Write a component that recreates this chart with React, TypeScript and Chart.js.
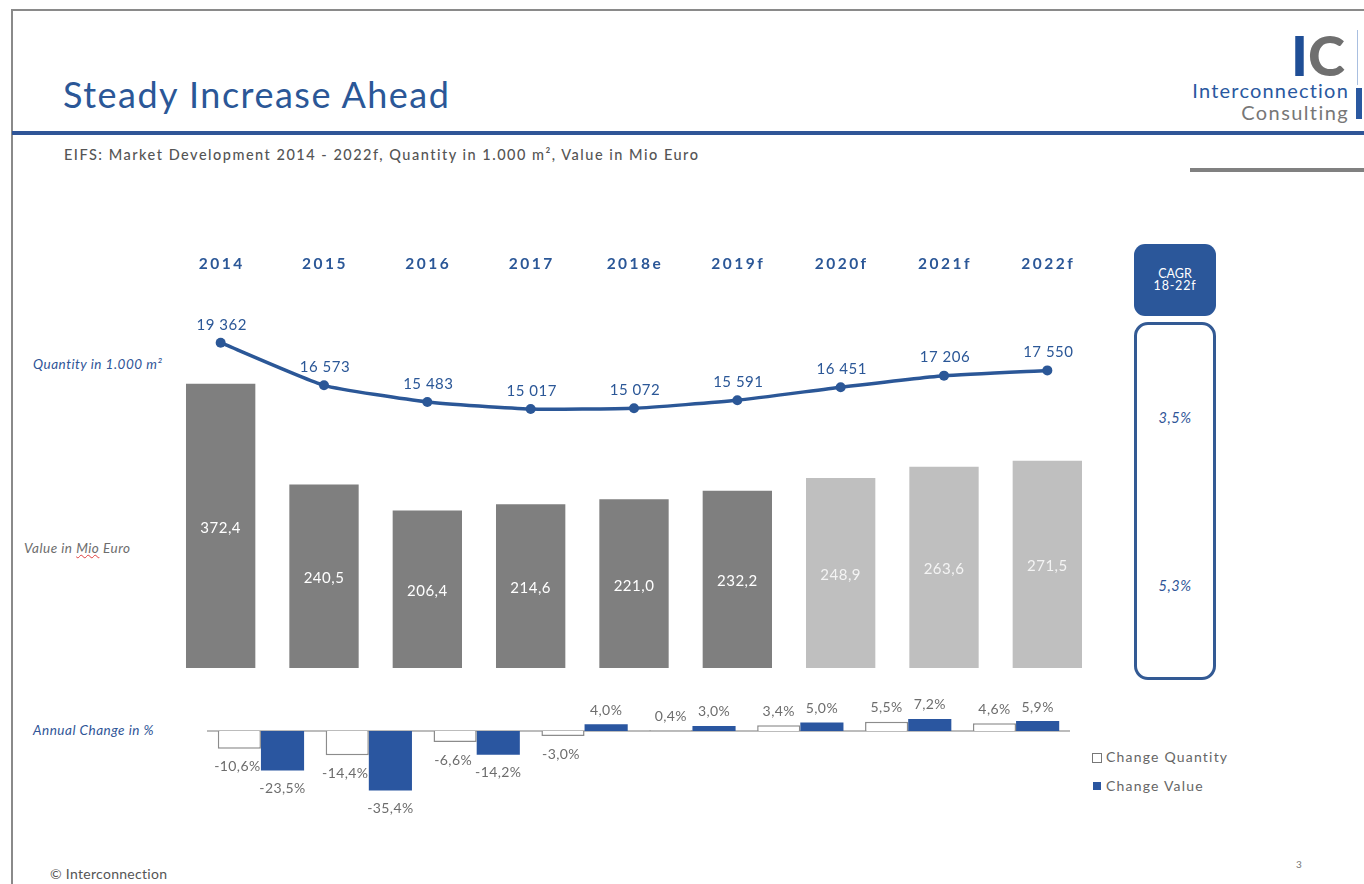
import React, { useEffect, useRef } from "react";
import { Chart, registerables } from "chart.js";
Chart.register(...registerables);

const years = ["2014", "2015", "2016", "2017", "2018e", "2019f", "2020f", "2021f", "2022f"];
const valueMio = [372.4, 240.5, 206.4, 214.6, 221.0, 232.2, 248.9, 263.6, 271.5];
const quantity = [19362, 16573, 15483, 15017, 15072, 15591, 16451, 17206, 17550];
const forecastStart = 6; // index from which bars are forecast (light)

const changeYears = ["2015", "2016", "2017", "2018e", "2019f", "2020f", "2021f", "2022f"];
const changeQuantity = [-10.6, -14.4, -6.6, -3.0, 0.4, 3.4, 5.5, 4.6];
const changeValue = [-23.5, -35.4, -14.2, 4.0, 3.0, 5.0, 7.2, 5.9];

const cagrQuantity = "3,5%";
const cagrValue = "5,3%";

const BLUE = "#2b5797";
const DARK = "#7f7f7f";
const LIGHT = "#bfbfbf";
const FONT = "Lato, 'Open Sans', sans-serif";

const fmtDec = (v: number) => v.toFixed(1).replace(".", ",");
const fmtThou = (v: number) => {
  const s = Math.round(v).toString();
  return s.length > 3 ? s.slice(0, s.length - 3) + " " + s.slice(s.length - 3) : s;
};

function MainChart() {
  const ref = useRef<HTMLCanvasElement>(null);
  useEffect(() => {
    if (!ref.current) return;
    const labelPlugin = {
      id: "labels",
      afterDatasetsDraw(chart: any) {
        const ctx = chart.ctx;
        const x = chart.scales.x;
        ctx.save();
        ctx.textAlign = "center";
        ctx.textBaseline = "middle";
        // year labels
        ctx.fillStyle = BLUE;
        ctx.font = `bold 15.5px ${FONT}`;
        (ctx as any).letterSpacing = "2.5px";
        years.forEach((y, i) => ctx.fillText(y, x.getPixelForValue(i) + 1, 24));
        // bar labels
        const barMeta = chart.getDatasetMeta(1);
        ctx.font = `15px ${FONT}`;
        (ctx as any).letterSpacing = "0.5px";
        barMeta.data.forEach((el: any, i: number) => {
          ctx.fillStyle = i >= forecastStart ? "#f4f4f4" : "#ffffff";
          ctx.fillText(fmtDec(valueMio[i]), el.x, (el.y + el.base) / 2 + 2);
        });
        // line labels
        const lineMeta = chart.getDatasetMeta(0);
        ctx.fillStyle = BLUE;
        lineMeta.data.forEach((el: any, i: number) => {
          ctx.fillText(fmtThou(quantity[i]), el.x + 1, el.y - 18);
        });
        ctx.restore();
      },
    };
    const chart = new Chart(ref.current, {
      type: "bar",
      data: {
        labels: years,
        datasets: [
          {
            type: "line",
            data: quantity,
            yAxisID: "yq",
            borderColor: BLUE,
            backgroundColor: BLUE,
            borderWidth: 3.5,
            pointRadius: 5,
            pointBackgroundColor: BLUE,
            pointBorderWidth: 0,
            tension: 0.15,
            order: 0,
          } as any,
          {
            type: "bar",
            data: valueMio,
            yAxisID: "y",
            backgroundColor: valueMio.map((_, i) => (i >= forecastStart ? LIGHT : DARK)),
            categoryPercentage: 1,
            barPercentage: 0.671,
            order: 1,
          },
        ],
      },
      options: {
        responsive: false,
        animation: false,
        maintainAspectRatio: false,
        layout: { autoPadding: false, padding: { top: 40, bottom: 12, left: 0, right: 0 } } as any,
        plugins: { legend: { display: false }, tooltip: { enabled: false } },
        scales: {
          x: { display: false },
          y: { display: false, min: 0, max: 508.5 },
          yq: { display: false, min: -1927, max: 23465 },
        },
      },
      plugins: [labelPlugin],
    });
    return () => chart.destroy();
  }, []);
  return (
    <canvas
      ref={ref}
      width={930}
      height={440}
      style={{ position: "absolute", left: 169, top: 240, width: 930, height: 440 }}
    />
  );
}

function ChangeChart() {
  const ref = useRef<HTMLCanvasElement>(null);
  useEffect(() => {
    if (!ref.current) return;
    const plugin = {
      id: "changeLabels",
      beforeDatasetsDraw(chart: any) {
        const ctx = chart.ctx;
        const y0 = chart.scales.y.getPixelForValue(0);
        ctx.save();
        ctx.strokeStyle = "#a6a6a6";
        ctx.lineWidth = 1.5;
        ctx.beginPath();
        ctx.moveTo(chart.chartArea.left, y0);
        ctx.lineTo(chart.chartArea.right, y0);
        ctx.stroke();
        ctx.restore();
      },
      afterDatasetsDraw(chart: any) {
        const ctx = chart.ctx;
        ctx.save();
        ctx.textAlign = "center";
        ctx.textBaseline = "middle";
        ctx.font = `14px ${FONT}`;
        (ctx as any).letterSpacing = "0.4px";
        ctx.fillStyle = "#6d6d6d";
        [changeQuantity, changeValue].forEach((arr, d) => {
          const meta = chart.getDatasetMeta(d);
          meta.data.forEach((el: any, i: number) => {
            const v = arr[i];
            const txt = fmtDec(v) + "%";
            const yy = v < 0 ? el.y + 18 : el.y - 14;
            ctx.fillText(txt, el.x - (v < 0 && d === 0 ? 2 : 0), yy);
          });
        });
        ctx.restore();
      },
    };
    const chart = new Chart(ref.current, {
      type: "bar",
      data: {
        labels: changeYears,
        datasets: [
          {
            data: changeQuantity,
            backgroundColor: "#ffffff",
            borderColor: "#8c8c8c",
            borderWidth: 1.5,
            categoryPercentage: 0.8,
            barPercentage: 1,
          },
          {
            data: changeValue,
            backgroundColor: "#2a56a0",
            borderWidth: 0,
            categoryPercentage: 0.8,
            barPercentage: 1,
          },
        ],
      },
      options: {
        responsive: false,
        animation: false,
        maintainAspectRatio: false,
        layout: { autoPadding: false, padding: 0 } as any,
        plugins: { legend: { display: false }, tooltip: { enabled: false } },
        scales: {
          x: { display: false },
          y: { display: false, min: -55.95, max: 24.4 },
        },
      },
      plugins: [plugin],
    });
    return () => chart.destroy();
  }, []);
  return (
    <canvas
      ref={ref}
      width={863}
      height={135}
      style={{ position: "absolute", left: 207, top: 690, width: 863, height: 135 }}
    />
  );
}

const abs = (s: React.CSSProperties): React.CSSProperties => ({ position: "absolute", ...s });

export default function App() {
  return (
    <div
      style={{
        position: "absolute",
        left: 0,
        top: 0,
        width: 1364,
        height: 884,
        overflow: "hidden",
        background: "#fff",
        fontFamily: FONT,
      }}
    >
      {/* frame */}
      <div style={abs({ left: 12, top: 9, width: 1352, height: 2, background: "#8a8a8a" })} />
      <div style={abs({ left: 11, top: 9, width: 2, height: 875, background: "#8a8a8a" })} />
      {/* title */}
      <div style={abs({ left: 63, top: 72, fontSize: 36, lineHeight: "44px", color: BLUE, whiteSpace: "nowrap", letterSpacing: 1.5 })}>
        Steady Increase Ahead
      </div>
      <div style={abs({ left: 12, top: 131, width: 1352, height: 4, background: "#2f5597" })} />
      <div style={abs({ left: 64, top: 146, fontSize: 14.5, color: "#555", fontWeight: 500, whiteSpace: "nowrap", letterSpacing: 1.5 })}>
        EIFS: Market Development 2014 - 2022f, Quantity in 1.000 m², Value in Mio Euro
      </div>
      <div style={abs({ left: 1190, top: 168, width: 174, height: 4, background: "#808080" })} />
      {/* logo */}
      <div style={abs({ left: 1291, top: 27, fontSize: 56, fontWeight: 900, lineHeight: "56px", letterSpacing: 0, whiteSpace: "nowrap" })}>
        <span style={{ color: "#1f4e96" }}>I</span>
        <span style={{ color: "#6f6f6f" }}>C</span>
      </div>
      <div style={abs({ right: 15, top: 80, fontSize: 20, color: "#2a58a0", lineHeight: "20px", textAlign: "right", whiteSpace: "nowrap", letterSpacing: 1.2 })}>
        Interconnection
      </div>
      <div style={abs({ right: 15, top: 102, fontSize: 20, color: "#777", lineHeight: "20px", textAlign: "right", whiteSpace: "nowrap", letterSpacing: 1.4 })}>
        Consulting
      </div>
      <div style={abs({ left: 1357, top: 30, width: 1, height: 55, background: "#a9bfe0" })} />
      <div style={abs({ left: 1356, top: 88, width: 6, height: 31, background: "#2a58a0" })} />
      {/* side labels */}
      <div style={abs({ left: 33, top: 356, fontSize: 13.5, fontStyle: "italic", color: "#2f5597", whiteSpace: "nowrap", letterSpacing: 0.5 })}>
        Quantity in 1.000 m²
      </div>
      <div style={abs({ left: 24, top: 540, fontSize: 13.5, fontStyle: "italic", color: "#6d6d6d", whiteSpace: "nowrap", letterSpacing: 0.5 })}>
        Value in{" "}
        <span style={{ textDecoration: "underline wavy #e04040", textDecorationThickness: 1 }}>Mio</span> Euro
      </div>
      <div style={abs({ left: 33, top: 722, fontSize: 13.5, fontStyle: "italic", color: "#2f5597", whiteSpace: "nowrap", letterSpacing: 0.5 })}>
        Annual Change in %
      </div>
      <MainChart />
      <ChangeChart />
      {/* CAGR */}
      <div
        style={abs({
          left: 1134,
          top: 244,
          width: 82,
          height: 72,
          background: "#2b579a",
          borderRadius: 11,
          color: "#fff",
          fontSize: 12.5,
          lineHeight: "12px",
          textAlign: "center",
          display: "flex",
          flexDirection: "column",
          justifyContent: "center",
        })}
      >
        <div>CAGR</div>
        <div style={{ letterSpacing: 0.8 }}>18-22f</div>
      </div>
      <div
        style={abs({
          left: 1134,
          top: 322,
          width: 76,
          height: 352,
          border: "3px solid #335a94",
          borderRadius: 14,
        })}
      />
      <div style={abs({ left: 1134, top: 409, width: 82, textAlign: "center", fontSize: 14.5, fontStyle: "italic", color: "#2f5597", letterSpacing: 0.5 })}>
        {cagrQuantity}
      </div>
      <div style={abs({ left: 1134, top: 577, width: 82, textAlign: "center", fontSize: 14.5, fontStyle: "italic", color: "#2f5597", letterSpacing: 0.5 })}>
        {cagrValue}
      </div>
      {/* legend */}
      <div style={abs({ left: 1092, top: 753, width: 8, height: 8, border: "1px solid #777", background: "#fff" })} />
      <div style={abs({ left: 1106, top: 748, fontSize: 14, color: "#666", whiteSpace: "nowrap", letterSpacing: 1.2 })}>
        Change Quantity
      </div>
      <div style={abs({ left: 1093, top: 782, width: 8, height: 8, background: "#2a56a0" })} />
      <div style={abs({ left: 1106, top: 777, fontSize: 14, color: "#666", whiteSpace: "nowrap", letterSpacing: 1.2 })}>
        Change Value
      </div>
      {/* footer */}
      <div style={abs({ left: 50, top: 865, fontSize: 14, color: "#555", whiteSpace: "nowrap", letterSpacing: 0.3 })}>© Interconnection</div>
      <div style={abs({ left: 1296, top: 858, fontSize: 10, color: "#777" })}>3</div>
    </div>
  );
}
